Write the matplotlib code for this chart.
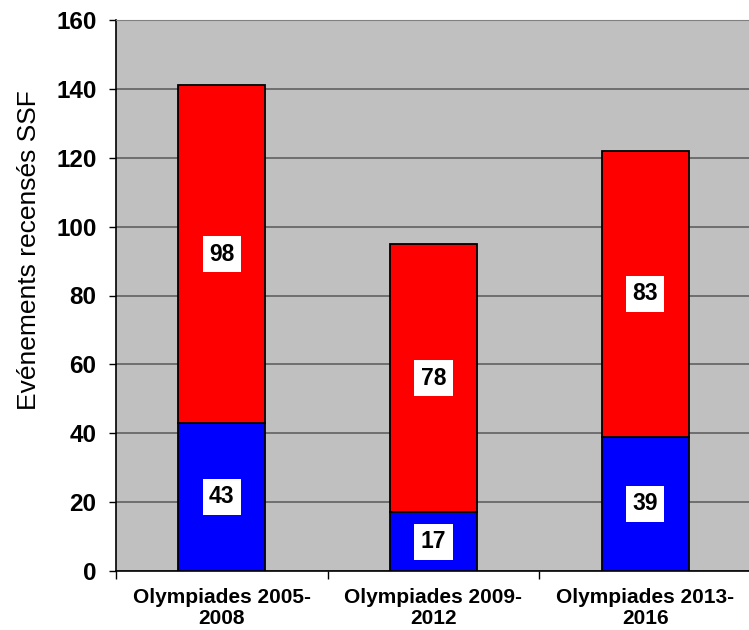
import numpy as np
import matplotlib.pyplot as plt

plt.rcParams['font.family'] = ['Liberation Sans', 'DejaVu Sans']

categories = ['Olympiades 2005-\n2008', 'Olympiades 2009-\n2012', 'Olympiades 2013-\n2016']
blue_vals = [43, 17, 39]
red_vals = [98, 78, 83]

fig = plt.figure(figsize=(7.49, 6.30), dpi=100)
ax = fig.add_axes([116 / 749, 1 - 571 / 630, 635 / 749, 551 / 630])
ax.set_facecolor('#c0c0c0')

x = np.arange(len(categories))
w = 0.41
ax.bar(x, blue_vals, w, color='#0000ff', edgecolor='black', linewidth=1.3, zorder=3)
ax.bar(x, red_vals, w, bottom=blue_vals, color='#ff0000', edgecolor='black', linewidth=1.3, zorder=3)

box = dict(boxstyle='square,pad=0.28', facecolor='white', edgecolor='none')
for i in range(len(categories)):
    ax.text(x[i], blue_vals[i] / 2, str(blue_vals[i]), ha='center', va='center',
            fontsize=16.5, fontweight='bold', bbox=box, zorder=4)
    ax.text(x[i], blue_vals[i] + red_vals[i] / 2, str(red_vals[i]), ha='center', va='center',
            fontsize=16.5, fontweight='bold', bbox=box, zorder=4)

ax.set_xlim(-0.5, 2.5)
ax.set_ylim(0, 160)
ax.set_yticks(np.arange(0, 161, 20))
ax.tick_params(axis='y', labelsize=17.5, length=5, width=1, direction='out', pad=9)
for lab in ax.get_yticklabels():
    lab.set_fontweight('bold')
ax.yaxis.grid(True, color='#606060', linewidth=1.2, zorder=0)

ax.set_xticks(x)
ax.set_xticklabels(categories, fontsize=15, fontweight='bold', linespacing=1.15)
ax.set_xticks([-0.5, 0.5, 1.5, 2.5], minor=True)
ax.tick_params(axis='x', which='major', length=0, pad=12)
ax.tick_params(axis='x', which='minor', length=6, width=1)

ax.set_ylabel('Evénements recensés SSF', fontsize=19)
ax.yaxis.set_label_coords(-0.118, 0.583)

ax.spines['top'].set_color('#808080')
ax.spines['right'].set_visible(False)
ax.spines['left'].set_linewidth(1.2)
ax.spines['bottom'].set_linewidth(1.2)

fig.savefig('out.png', dpi=100)
